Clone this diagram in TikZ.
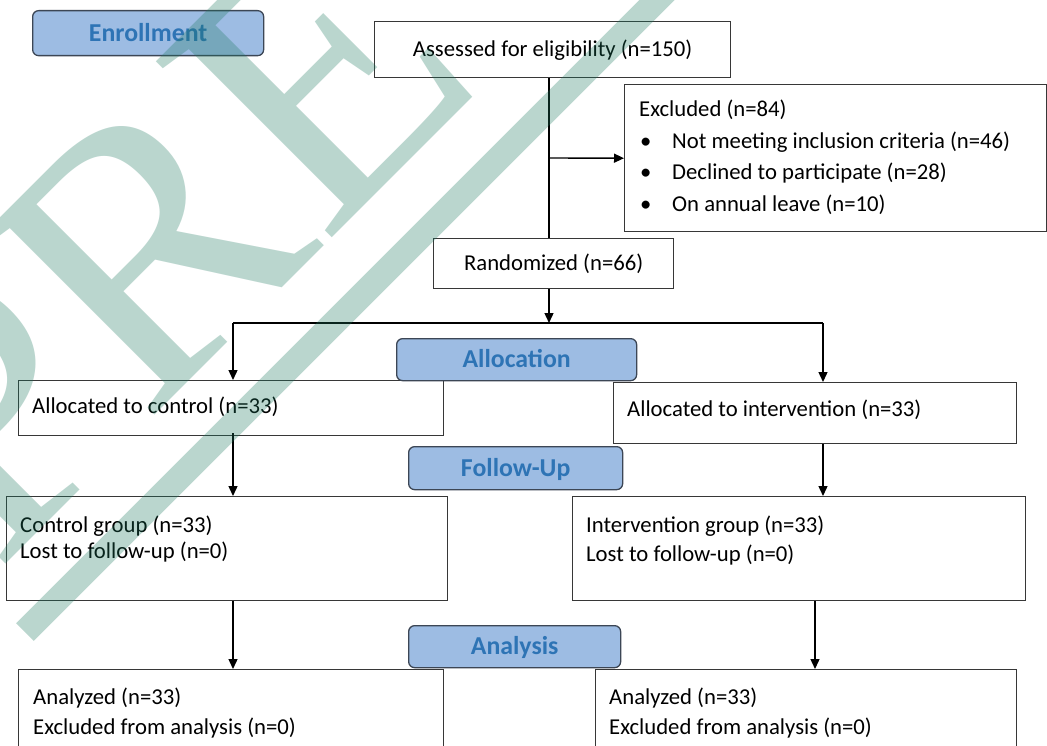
\documentclass[tikz,border=0pt]{standalone}
\usepackage{fontspec}
\setmainfont{Carlito}
\newfontfamily\wmfont{Liberation Serif}
\usetikzlibrary{arrows.meta}
\definecolor{hdfill}{RGB}{157,188,227}
\definecolor{hdtext}{RGB}{46,116,181}
\definecolor{hdline}{RGB}{60,70,85}
\definecolor{boxline}{RGB}{55,55,55}
\definecolor{wmc}{RGB}{28,120,95}
\tikzset{
  box/.style={draw=boxline, line width=1.4pt, fill=white, anchor=north west, inner sep=0pt,
    font=\fontsize{22.7pt}{26pt}\selectfont, text height=14pt, text depth=0pt},
  head/.style={draw=hdline, line width=1.3pt, fill=hdfill, rounded corners=6pt, anchor=north west,
    inner sep=0pt, text=hdtext, font=\fontsize{25.8pt}{28pt}\selectfont\bfseries, text height=16pt, text depth=0pt},
  txt/.style={anchor=base west, inner sep=0pt, font=\fontsize{22.7pt}{26pt}\selectfont},
  conn/.style={line width=1.4pt, black},
  arr/.style={conn, -{Triangle[length=10pt,width=9pt]}},
  wm/.style={text=wmc, text opacity=0.3, inner sep=0pt, font=\wmfont\fontsize{380pt}{380pt}\selectfont},
  wmband/.style={draw=wmc, draw opacity=0.3, line width=25pt}
}
\begin{document}
\begin{tikzpicture}[x=1pt,y=-1pt]
\useasboundingbox (0,0) rectangle (1047,746);
\fill[white] (0,0) rectangle (1047,746);
\clip (0,0) rectangle (1047,746);

% phase headings
\node[head, minimum width=231pt, minimum height=45pt] (enr) at (32,10) {Enrollment};

% boxes
\node[box, minimum width=356pt, minimum height=56pt] (assess) at (374,21) {Assessed for eligibility (n=150)};
\node[box, minimum width=422pt, minimum height=147pt] (excl) at (624,84) {};
\node[box, minimum width=240pt, minimum height=50pt] (rand) at (433,238) {Randomized (n=66)};
\node[box, minimum width=425pt, minimum height=55pt] (ctrl) at (18,380) {};
\node[box, minimum width=403pt, minimum height=61pt] (intv) at (613,382) {};
\node[box, minimum width=441pt, minimum height=104pt] (cg) at (6,496) {};
\node[box, minimum width=453pt, minimum height=104pt] (ig) at (572,496) {};
\node[box, minimum width=425pt, minimum height=110pt] (ac) at (18,669) {};
\node[box, minimum width=421pt, minimum height=110pt] (ai) at (595,669) {};

\node[head, minimum width=240pt, minimum height=42pt] (alloc) at (396,338) {Allocation};
\node[head, minimum width=214pt, minimum height=43pt] (follow) at (408,446) {Follow-Up};
\node[head, minimum width=212pt, minimum height=42pt] (analysis) at (408,625) {Analysis};

% texts
\node[txt] (ex0) at (639,117) {Excluded (n=84)};
\node[txt] (bu1) at (640,149) {\textbullet};
\node[txt] (ex1) at (672,149) {Not meeting inclusion criteria (n=46)};
\node[txt] (bu2) at (640,180) {\textbullet};
\node[txt] (ex2) at (672,180) {Declined to participate (n=28)};
\node[txt] (bu3) at (640,212) {\textbullet};
\node[txt] (ex3) at (672,212) {On annual leave (n=10)};
\node[txt] (ctrlt) at (32,413) {Allocated to control (n=33)};
\node[txt] (intvt) at (627,416) {Allocated to intervention (n=33)};
\node[txt] (cg1) at (20,532) {Control group (n=33)};
\node[txt] (cg2) at (20,558) {Lost to follow-up (n=0)};
\node[txt] (ig1) at (586,532) {Intervention group (n=33)};
\node[txt] (ig2) at (586,561) {Lost to follow-up (n=0)};
\node[txt] (ac1) at (33,704) {Analyzed (n=33)};
\node[txt] (ac2) at (33,734) {Excluded from analysis (n=0)};
\node[txt] (ai1) at (609,704) {Analyzed (n=33)};
\node[txt] (ai2) at (609,734) {Excluded from analysis (n=0)};

% connectors
\coordinate (j1) at (549,158);
\coordinate (split) at (549,323);
\coordinate (cl) at (233,323);
\coordinate (cr) at (823,323);
\coordinate (ar) at (815,600);
\draw[conn] (j1 |- assess.south) -- (j1 |- rand.north);
\draw[arr] (j1) -- (excl.west);
\draw[arr] (split |- rand.south) -- (split);
\draw[conn] (cl) -- (cr);
\draw[arr] (cl) -- (cl |- ctrl.north);
\draw[arr] (cr) -- (cr |- intv.north);
\draw[arr] ([yshift=3pt]cl |- ctrl.south) -- (cl |- cg.north);
\draw[arr] (cr |- intv.south) -- (cr |- ig.north);
\draw[arr] (cl |- cg.south) -- (cl |- ac.north);
\draw[arr] (ar |- ig.south) -- (ar |- ai.north);

% watermark
\node[wm, rotate=45, anchor=base west] (wmtext) at (-4,574) {PREVIEW};
\draw[wmband] (25,632) -- (705,-48);
\end{tikzpicture}
\end{document}
